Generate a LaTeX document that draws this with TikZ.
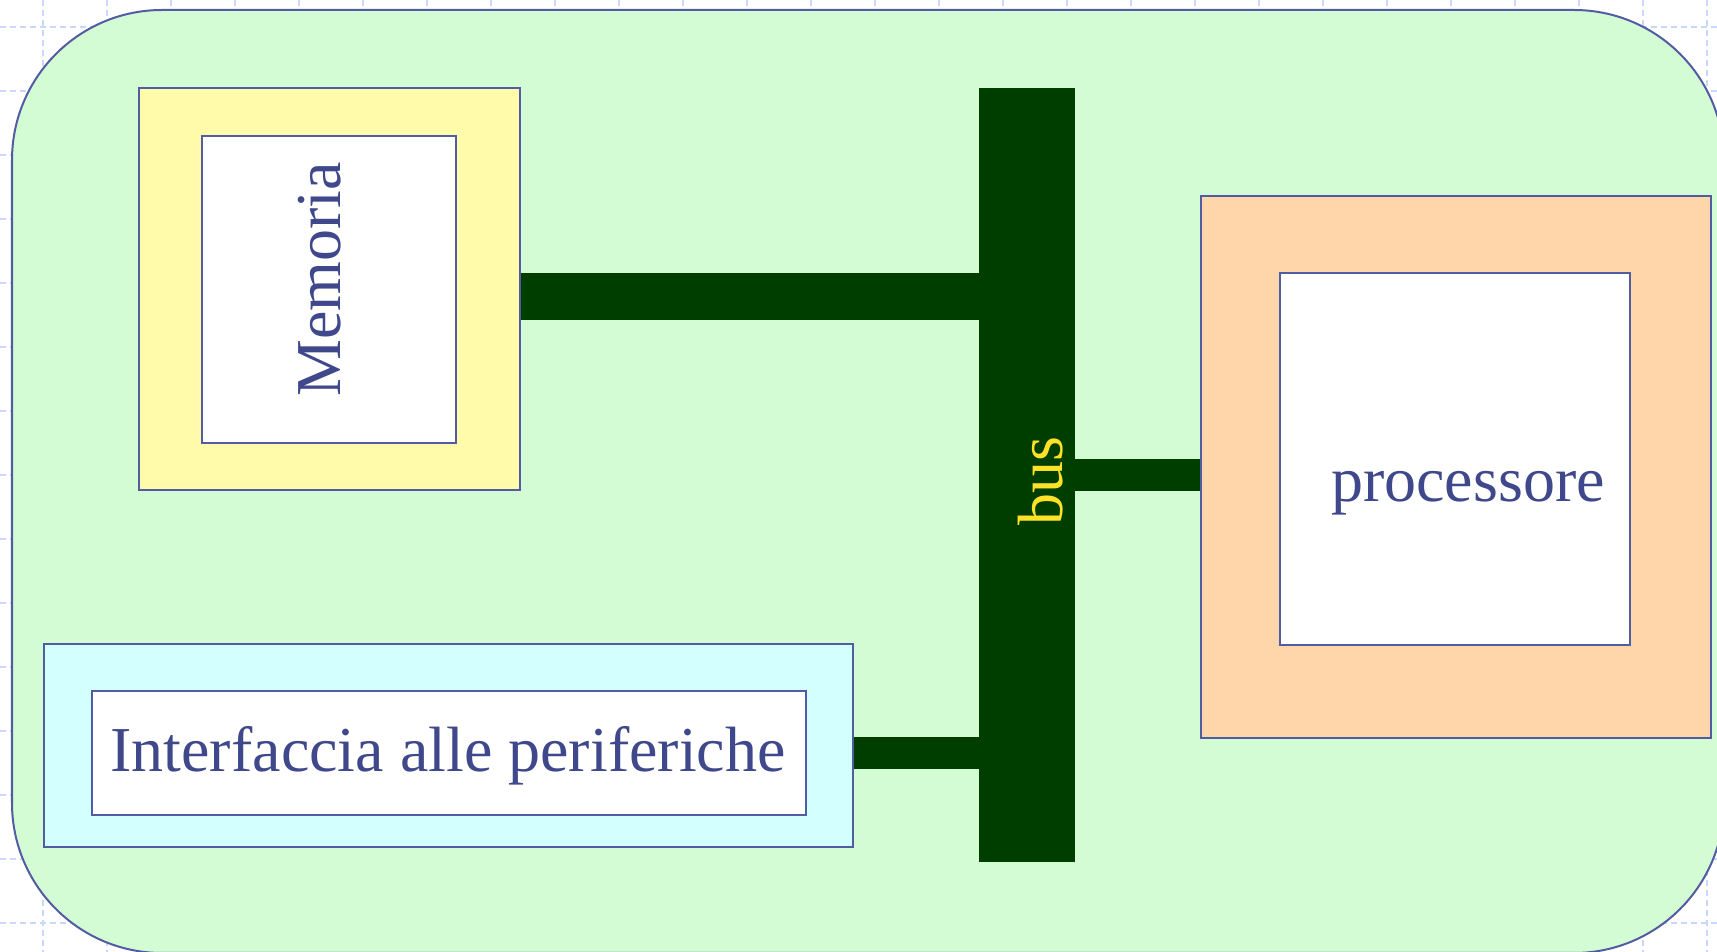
\documentclass[tikz,border=0pt]{standalone}
\usepackage{fontspec}
\setmainfont{Liberation Serif}
\usepackage{xcolor}
\usetikzlibrary{backgrounds}

\definecolor{slidegrid}{RGB}{200,215,250}
\definecolor{panelgreen}{RGB}{212,252,212}
\definecolor{boxline}{RGB}{82,92,162}
\definecolor{labelblue}{RGB}{64,72,140}
\definecolor{busgreen}{RGB}{0,62,0}
\definecolor{busyellow}{RGB}{255,226,40}
\definecolor{memyellow}{RGB}{255,251,170}
\definecolor{iocyan}{RGB}{212,255,255}
\definecolor{cpupeach}{RGB}{255,214,170}

\begin{document}
\begin{tikzpicture}[x=0.01cm,y=-0.01cm,
    outerbox/.style={shape=rectangle,draw=boxline,line width=0.02cm,inner sep=0pt},
    innerbox/.style={outerbox,fill=white},
    wire/.style={draw=busgreen},
    txt/.style={text=labelblue,font=\fontsize{18.2pt}{22pt}\selectfont,anchor=base,inner sep=0pt},
    gridline/.style={draw=slidegrid,line width=0.02cm,dash pattern=on 0.06cm off 0.04cm}]
    %\draw[help lines] (0,0) grid (1717,952); % Only for Development
    \useasboundingbox (0,0) rectangle (1717,952);

    \begin{scope}[on background layer]
      \foreach \gx in {43,107,...,1707}
        \draw[gridline] (\gx,0) -- (\gx,952);
      \foreach \gy in {27,91,...,923}
        \draw[gridline] (0,\gy) -- (1717,\gy);
      \draw[draw=boxline,fill=panelgreen,line width=0.02cm,rounded corners=1.5cm]
        (12,10) rectangle (1724,953);
    \end{scope}

    \node[shape=rectangle,
      fill=busgreen,
      inner sep=0pt,
      minimum width = 0.96cm,
      minimum height = 7.74cm] (bus) at (1027,475) {};

    \node[outerbox,
      fill=memyellow,
      minimum width = 3.81cm,
      minimum height = 4.02cm] (mem) at (329.5,289) {};
    \node[innerbox,
      minimum width = 2.54cm,
      minimum height = 3.07cm] (memin) at (329,289.5) {};

    \node[outerbox,
      fill=iocyan,
      minimum width = 8.09cm,
      minimum height = 2.03cm] (io) at (448.5,745.5) {};
    \node[innerbox,
      minimum width = 7.14cm,
      minimum height = 1.24cm] (ioin) at (449,753) {};

    \node[outerbox,
      fill=cpupeach,
      minimum width = 5.10cm,
      minimum height = 5.42cm] (cpu) at (1456,467) {};
    \node[innerbox,
      minimum width = 3.50cm,
      minimum height = 3.72cm] (cpuin) at (1455,459) {};

    \node[txt,rotate=90] (memtext) at (340,279.5) {Memoria};
    \node[txt] (iotext) at (448,772) {Interfaccia alle periferiche};
    \node[txt] (cputext) at (1468,502) {processore};
    \node[txt,rotate=90,text=busyellow] (bustext) at (1062,481.5) {bus};

    \coordinate (memport) at ([yshift=-0.075cm]mem.east);
    \coordinate (ioport) at (io.east |- ioin.center);

    \begin{scope}[on background layer]
      \draw[wire,line width=0.47cm] (memport) -- (memport -| bus.center);
      \draw[wire,line width=0.32cm] (ioport) -- (ioport -| bus.center);
      \draw[wire,line width=0.32cm] (bus.center) -- (bus.center -| cpu.west);
    \end{scope}
\end{tikzpicture}
\end{document}
